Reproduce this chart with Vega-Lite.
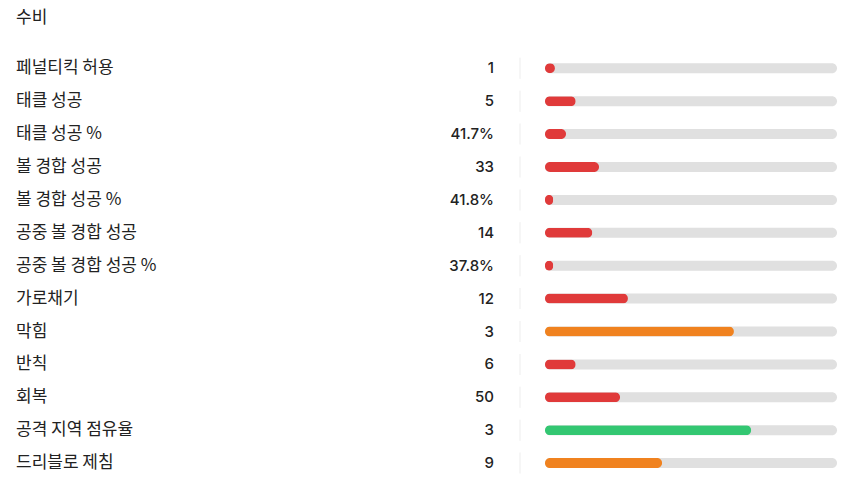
{
  "$schema": "https://vega.github.io/schema/vega-lite/v6.json",
  "width": 850,
  "height": 427.7,
  "autosize": {"type": "none"},
  "padding": {"top": 51.85, "bottom": 9.45, "left": 0, "right": 0},
  "background": "#ffffff",
  "title": {
    "text": "수비",
    "anchor": "start",
    "dx": 16,
    "offset": 17,
    "baseline": "middle",
    "font": "Noto Sans CJK KR",
    "fontSize": 17,
    "fontWeight": "normal",
    "color": "#222222"
  },
  "config": {"view": {"stroke": null}},
  "data": {
    "values": [
      {"label": "페널티킥 허용", "display": "1", "pct": 3.4},
      {"label": "태클 성공", "display": "5", "pct": 10.5},
      {"label": "태클 성공 %", "display": "41.7%", "pct": 7.2},
      {"label": "볼 경합 성공", "display": "33", "pct": 18.5},
      {"label": "볼 경합 성공 %", "display": "41.8%", "pct": 2.8},
      {"label": "공중 볼 경합 성공", "display": "14", "pct": 16.2},
      {"label": "공중 볼 경합 성공 %", "display": "37.8%", "pct": 2.8},
      {"label": "가로채기", "display": "12", "pct": 28.4},
      {"label": "막힘", "display": "3", "pct": 64.7},
      {"label": "반칙", "display": "6", "pct": 10.5},
      {"label": "회복", "display": "50", "pct": 25.7},
      {"label": "공격 지역 점유율", "display": "3", "pct": 70.6},
      {"label": "드리블로 제침", "display": "9", "pct": 40.1}
    ]
  },
  "encoding": {
    "y": {
      "field": "label",
      "type": "nominal",
      "sort": null,
      "axis": null,
      "scale": {"type": "band", "paddingInner": 0, "paddingOuter": 0}
    }
  },
  "layer": [
    {
      "mark": {"type": "bar", "color": "#e0e0e0", "cornerRadius": 5, "size": 10},
      "encoding": {
        "x": {
          "datum": 100,
          "type": "quantitative",
          "axis": null,
          "scale": {"domain": [-186.64, 104.45], "nice": false, "zero": false}
        }
      }
    },
    {
      "mark": {"type": "bar", "cornerRadius": 5, "size": 10},
      "encoding": {
        "x": {"field": "pct", "type": "quantitative"},
        "color": {
          "field": "pct",
          "type": "quantitative",
          "legend": null,
          "scale": {
            "type": "threshold",
            "domain": [33.3, 50, 66.7],
            "range": ["#e03a3a", "#f0821f", "#f0821f", "#33c772"]
          }
        }
      }
    },
    {
      "mark": {"type": "tick", "color": "#e8e8e8", "size": 21, "thickness": 1.2, "orient": "vertical"},
      "encoding": {"x": {"datum": -8.56, "type": "quantitative"}}
    },
    {
      "mark": {
        "type": "text",
        "align": "left",
        "baseline": "middle",
        "font": "Noto Sans CJK KR",
        "fontSize": 17,
        "color": "#222222"
      },
      "encoding": {
        "x": {"datum": -181.16, "type": "quantitative"},
        "text": {"field": "label"}
      }
    },
    {
      "mark": {
        "type": "text",
        "align": "right",
        "baseline": "middle",
        "font": "Inter",
        "fontSize": 15,
        "fontWeight": 500,
        "color": "#222222"
      },
      "encoding": {
        "x": {"datum": -17.47, "type": "quantitative"},
        "text": {"field": "display"}
      }
    }
  ]
}
